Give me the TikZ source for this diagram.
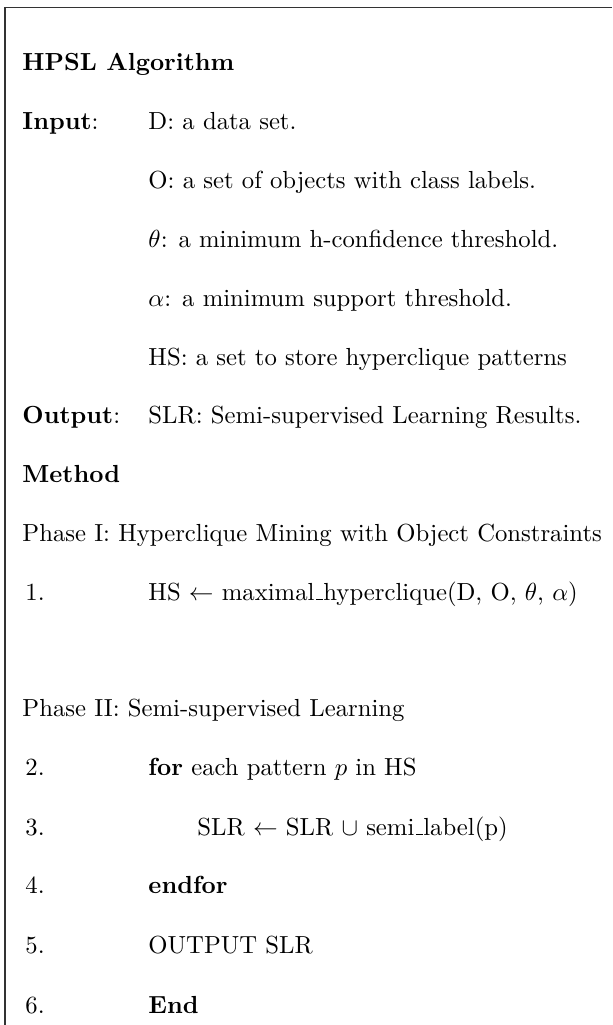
\documentclass[tikz,border=0pt]{standalone}
\usepackage{amsmath}
\usepackage{tikz}
% low rule as in the old OT1 underscore
\newcommand{\lowbar}{\leavevmode\kern.06em\vbox{\hrule width.3em}}

\begin{document}
\begin{tikzpicture}[x=1pt,y=1pt,
  txt/.style={anchor=base west,inner sep=0pt,scale=1.235,font=\fontsize{10}{12}\selectfont}]
\useasboundingbox (0,0) rectangle (306,-512.5);
\draw[line width=0.6pt,black!80](2.5,-512.5)--(2.5,-3.6)--(306,-3.6);

\node[txt] (title) at (11,-35) {\textbf{HPSL Algorithm}};
\node[txt] (in) at (11,-64.5) {\textbf{Input}:};
\node[txt] (inD) at (74,-64.5) {D: a data set.};
\node[txt] (inO) at (74,-94) {O: a set of objects with class labels.};
\node[txt] (inT) at (74,-123.5) {$\theta$: a minimum h-confidence threshold.};
\node[txt] (inA) at (74,-153) {$\alpha$: a minimum support threshold.};
\node[txt] (inH) at (74,-182.5) {HS: a set to store hyperclique patterns};
\node[txt] (out) at (11,-211.5) {\textbf{Output}:};
\node[txt] (outS) at (74,-211.5) {SLR: Semi-supervised Learning Results.};
\node[txt] (meth) at (11,-241) {\textbf{Method}};

% phase I
\node[txt] (ph1) at (11,-270.5) {Phase I: Hyperclique Mining with Object Constraints};
\node[txt] (n1) at (12.5,-300) {1.};
\node[txt] (s1) at (74,-300) {HS $\leftarrow$ maximal\lowbar hyperclique(D, O, $\theta$, $\alpha$)};

% phase II
\node[txt] (ph2) at (11,-358) {Phase II: Semi-supervised Learning};
\node[txt] (n2) at (12.5,-387.5) {2.};
\node[txt] (s2) at (74,-387.5) {\textbf{for} each pattern $p$ in HS};
\node[txt] (n3) at (12.5,-417.5) {3.};
\node[txt] (s3) at (98.5,-417.5) {SLR $\leftarrow$ SLR $\cup$ semi\lowbar label(p)};
\node[txt] (n4) at (12.5,-446.5) {4.};
\node[txt] (s4) at (74,-446.5) {\textbf{endfor}};
\node[txt] (n5) at (12.5,-476.5) {5.};
\node[txt] (s5) at (74,-476.5) {OUTPUT SLR};
\node[txt] (n6) at (12.5,-506.5) {6.};
\node[txt] (s6) at (74,-506.5) {\textbf{End}};
\end{tikzpicture}
\end{document}
